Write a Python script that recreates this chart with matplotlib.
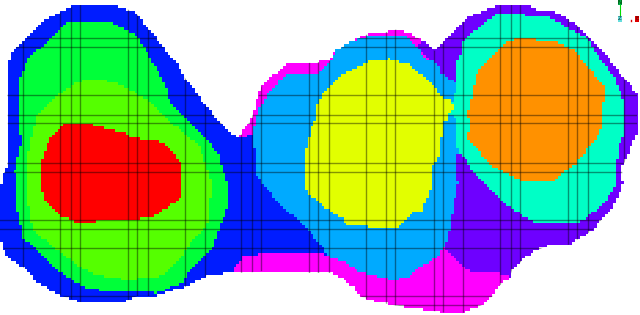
import numpy as np
import matplotlib
matplotlib.use('Agg')
import matplotlib.pyplot as plt
from matplotlib.colors import ListedColormap
from matplotlib.path import Path
from matplotlib.patches import PathPatch

# Class outlines (image pixel coords)
outline = [(75,5),(100,5),(118,7),(133,11),(140,17),(146,27),(160,42),(165,50),(175,60),(185,78),(195,90),
           (205,105),(220,122),(232,135),(240,137),(252,118),(257,100),(262,85),(270,77),(282,70),(290,62),
           (308,63),(330,61),(335,52),(347,44),(365,35),(387,32),(398,29),(413,35),(423,41),(435,51),(440,45),
           (453,33),(467,18),(482,12),(498,5),(527,5),(533,9),(555,12),(567,18),(583,30),(593,43),(610,60),
           (623,77),(637,93),(637,133),(630,147),(630,152),(622,167),(623,185),(613,207),(603,218),(593,230),
           (580,238),(568,245),(547,246),(533,252),(525,258),(512,270),(510,277),(498,287),(492,297),(482,305),
           (463,313),(460,315),(440,312),(413,308),(393,305),(368,300),(358,295),(355,288),(347,282),(340,277),
           (330,273),(273,273),(263,271),(245,273),(232,272),(228,272),(220,275),(207,276),(185,287),(168,292),
           (157,296),(137,296),(122,303),(103,303),(80,302),(67,298),(55,293),(38,283),(23,267),(8,257),(3,247),
           (0,238),(0,190),(3,175),(7,167),(8,140),(7,67),(13,50),(22,43),(30,35),(42,22),(53,16),(72,7)]
green = [(20,80),(25,67),(28,58),(42,47),(55,35),(67,23),(113,23),(137,35),(147,52),(157,70),(167,88),(167,98),
         (183,115),(200,132),(218,153),(227,183),(227,208),(220,228),(213,248),(203,257),(188,272),(183,283),
         (157,293),(103,291),(82,287),(60,272),(42,255),(23,238),(17,207),(15,170),(22,140),(18,123)]
lime = [(30,143),(37,117),(58,95),(78,82),(97,79),(117,83),(130,90),(147,100),(167,120),(183,132),(200,147),
        (212,183),(207,227),(193,240),(182,257),(160,277),(127,280),(97,275),(77,265),(57,250),(33,230),(27,197),(28,157)]
red = [(42,160),(50,138),(65,123),(87,123),(100,127),(123,132),(133,138),(163,142),(175,155),(182,165),(182,197),
       (167,208),(152,218),(112,220),(77,223),(60,215),(43,198),(40,160)]
magenta = [(238,138),(252,118),(257,100),(262,85),(270,77),(282,70),(290,62),(308,63),(330,61),(335,52),(347,44),
           (365,35),(387,32),(398,29),(413,35),(423,41),(435,51),(480,100),(510,277),(498,287),(492,297),(482,305),
           (463,313),(460,315),(440,312),(413,308),(393,305),(368,300),(358,295),(355,288),(347,282),(340,277),
           (330,273),(273,273),(263,271),(245,273),(232,272),(245,255),(267,254),(313,252),(327,255),(252,135)]
purple = [(418,47),(423,41),(435,51),(440,45),(453,33),(467,18),(482,12),(498,5),(527,5),(533,9),(555,12),(567,18),
          (583,30),(593,43),(610,60),(623,77),(637,93),(637,133),(630,147),(630,152),(622,167),(623,185),(613,207),
          (603,218),(593,230),(580,238),(568,245),(547,246),(533,252),(525,258),(512,270),(510,277),(498,273),
          (475,273),(465,268),(455,257),(445,247),(430,240),(430,60)]
sky = [(252,135),(255,123),(260,108),(268,95),(278,82),(288,73),(320,73),(330,62),(335,52),(347,44),(365,37),(407,37),
       (417,47),(427,60),(438,63),(440,73),(448,78),(457,82),(458,153),(457,163),(458,183),(455,200),(452,218),
       (450,230),(447,243),(437,257),(430,262),(417,268),(407,278),(393,280),(370,275),(360,272),(347,263),(333,258),
       (327,255),(323,248),(308,230),(292,215),(278,202),(260,180),(257,175),(255,153)]
teal = [(463,43),(467,38),(487,20),(498,14),(547,16),(563,25),(587,38),(600,58),(615,78),(623,100),(625,133),(618,147),
        (617,167),(615,187),(607,200),(587,218),(577,223),(537,223),(525,217),(507,205),(487,187),(473,172),(463,155),
        (458,150),(457,133),(457,120),(447,113),(455,95),(457,80),(455,68),(462,53)]
yellow = [(317,107),(323,95),(345,73),(357,68),(368,62),(390,59),(410,65),(433,85),(442,98),(452,100),(453,110),(447,113),
          (450,122),(442,120),(442,133),(438,160),(433,165),(430,192),(422,212),(413,212),(400,227),(383,228),(348,225),
          (342,218),(328,210),(310,195),(306,188),(306,152),(313,123),(317,120)]
orange = [(518,39),(540,40),(558,42),(573,50),(587,65),(600,82),(604,87),(603,127),(597,137),(587,150),(577,163),(563,173),
          (553,182),(523,182),(507,173),(490,165),(478,150),(468,140),(470,120),(467,117),(472,97),(475,83),(478,72),
          (488,62),(505,43)]

# painter's order, blue outline is the base
classes = [outline, magenta, purple, sky, teal, green, lime, red, yellow, orange]
colors = ['#ffffff', '#001cff', '#ff00ff', '#6e00ff', '#00aaff', '#00ffc6', '#00ff39', '#55ff00', '#ff0000', '#e2ff00', '#ff9100']

# graticule lines
grid_x = [22, 59, 70, 79, 127, 136, 147, 184, 204, 240, 251, 260, 308, 317, 328, 365, 385, 394, 433, 442, 462, 499, 510, 519, 567, 576, 587, 623]
grid_y = [37, 46, 94, 114, 122, 162, 171, 219, 228, 247, 295, 304]

cell = 2.75
xs = np.arange(cell / 2, 640, cell)
ys = np.arange(cell / 2, 315, cell)
xx, yy = np.meshgrid(xs, ys)
pts = np.column_stack([xx.ravel(), yy.ravel()])
raster = np.zeros(len(pts), dtype=int)
for i, poly in enumerate(classes):
    raster[Path(poly + [poly[0]]).contains_points(pts)] = i + 1
raster = raster.reshape(xx.shape)

fig = plt.figure(figsize=(6.4, 3.15), dpi=100)
ax = fig.add_axes([0, 0, 1, 1])
ax.imshow(raster, cmap=ListedColormap(colors), vmin=0, vmax=len(colors) - 1, interpolation='nearest',
          extent=[0, len(xs) * cell, len(ys) * cell, 0], aspect='auto')
ax.set_xlim(0, 640)
ax.set_ylim(315, 0)
ax.axis('off')

clip = PathPatch(Path(outline + [outline[0]]), transform=ax.transData, fc='none', ec='none')
ax.add_patch(clip)
for x in grid_x:
    ax.axvline(x + 0.5, color='black', alpha=0.42, lw=1.0).set_clip_path(clip)
for y in grid_y:
    ax.axhline(y + 0.5, color='black', alpha=0.42, lw=1.0).set_clip_path(clip)

# little north/east marker in the corner
box = dict(pad=0.3, ec='none')
ax.plot([619.5, 619.5], [5, 16], color='#00dd00', lw=0.8)
ax.plot([631, 631], [19.5, 20.5], color='#dd0000', lw=1)
ax.text(620, 2.5, 'N', color='#003300', fontsize=4, ha='center', va='center', bbox=dict(fc='#00aa44', **box))
ax.text(620, 19, 'Z', color='#003333', fontsize=4, ha='center', va='center', bbox=dict(fc='#66dddd', **box))
ax.text(637, 19, 'E', color='#550000', fontsize=4, ha='center', va='center', bbox=dict(fc='#dd0000', **box))

fig.savefig('out.png', dpi=100)
